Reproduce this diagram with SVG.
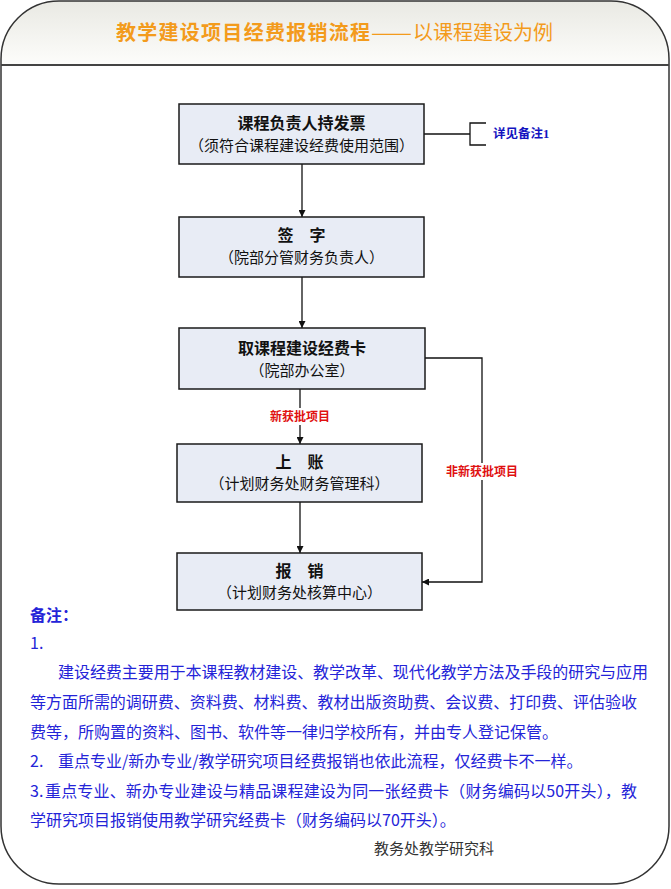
<svg xmlns="http://www.w3.org/2000/svg" width="671" height="889" viewBox="0 0 671 889">
<defs>
<linearGradient id="hdr" x1="0" y1="0" x2="0" y2="1">
<stop offset="0" stop-color="#e9e9e3"/>
<stop offset="1" stop-color="#fdfdfb"/>
</linearGradient>
<clipPath id="outer"><rect x="1" y="1" width="668" height="883" rx="58" ry="58"/></clipPath>
<marker id="arr" viewBox="0 0 10 10" refX="10" refY="5" markerWidth="7" markerHeight="7" orient="auto" markerUnits="userSpaceOnUse">
<path d="M0,0 L10,5 L0,10 z" fill="#111"/>
</marker>
<style>
.box{fill:#e8ecf5;stroke:#1a1a1a;stroke-width:1.5}
.t1{font-family:"Noto Sans CJK SC","Liberation Sans",sans-serif;font-size:16px;font-weight:bold;fill:#111;text-anchor:middle}
.t2{font-family:"Noto Sans CJK SC","Liberation Sans",sans-serif;font-size:15px;fill:#111;text-anchor:middle}
.ln{stroke:#111;stroke-width:1.3;fill:none}
.red{font-family:"Noto Sans CJK SC","Liberation Sans",sans-serif;font-size:12px;font-weight:bold;fill:#e01010;text-anchor:middle}
.note{font-family:"Noto Sans CJK SC","Liberation Sans",sans-serif;font-size:16px;fill:#2424d8}
.ttl{font-family:"Noto Sans CJK SC","Liberation Sans",sans-serif;font-size:20px;fill:#f39b1c}
</style>
</defs>
<g id="frame">
<rect x="1" y="1" width="668" height="64" fill="url(#hdr)" clip-path="url(#outer)"/>
<rect x="1" y="65" width="668" height="819" fill="#ffffff" clip-path="url(#outer)"/>
<rect x="1" y="1" width="668" height="883" rx="58" ry="58" fill="none" stroke="#333" stroke-width="1.5"/>
<line x1="1" y1="65" x2="669" y2="65" stroke="#444" stroke-width="2"/>
<text class="ttl" x="116" y="40" font-weight="bold" textLength="254" lengthAdjust="spacing">教学建设项目经费报销流程</text>
<text class="ttl" x="371" y="40" textLength="41" lengthAdjust="spacingAndGlyphs">——</text>
<text class="ttl" x="413" y="40" textLength="140" lengthAdjust="spacing">以课程建设为例</text>
</g>
<g id="connectors">
<line class="ln" x1="302" y1="164" x2="302" y2="217" marker-end="url(#arr)"/>
<line class="ln" x1="302" y1="277" x2="302" y2="328" marker-end="url(#arr)"/>
<line class="ln" x1="300" y1="389" x2="300" y2="444" marker-end="url(#arr)"/>
<line class="ln" x1="300" y1="502" x2="300" y2="553" marker-end="url(#arr)"/>
<polyline class="ln" points="425,358 482,358 482,582 422,582" marker-end="url(#arr)"/>
<polyline class="ln" points="424,134 470,134"/>
<polyline class="ln" points="486,123 470,123 470,145 486,145"/>
<rect x="268" y="408" width="64" height="17" fill="#fff"/>
<text class="red" x="300" y="421">新获批项目</text>
<rect x="444" y="463" width="76" height="17" fill="#fff"/>
<text class="red" x="482" y="476">非新获批项目</text>
<text x="493" y="138" font-family="Liberation Serif,Noto Sans CJK SC,serif" font-size="12.5" font-weight="bold" fill="#1414c0">详见备注1</text>
</g>
<g id="n1">
<rect class="box" x="179" y="104" width="245" height="60"/>
<text class="t1" x="301.5" y="129">课程负责人持发票</text>
<text class="t2" x="301.5" y="151">（须符合课程建设经费使用范围）</text>
</g>
<g id="n2">
<rect class="box" x="179" y="217" width="245" height="60"/>
<text class="t1" x="301.5" y="241">签　字</text>
<text class="t2" x="301.5" y="263">（院部分管财务负责人）</text>
</g>
<g id="n3">
<rect class="box" x="179" y="328" width="246" height="61"/>
<text class="t1" x="302" y="354">取课程建设经费卡</text>
<text class="t2" x="302" y="376">（院部办公室）</text>
</g>
<g id="n4">
<rect class="box" x="177" y="444" width="245" height="58"/>
<text class="t1" x="299.5" y="468">上　账</text>
<text class="t2" x="299.5" y="489">（计划财务处财务管理科）</text>
</g>
<g id="n5">
<rect class="box" x="177" y="553" width="245" height="57"/>
<text class="t1" x="299.5" y="577">报　销</text>
<text class="t2" x="299.5" y="598">（计划财务处核算中心）</text>
</g>
<g id="notes">
<text class="note" x="30" y="621" font-weight="bold">备注：</text>
<text class="note" x="30" y="649">1.</text>
<text class="note" x="58" y="678" textLength="590" lengthAdjust="spacing">建设经费主要用于本课程教材建设、教学改革、现代化教学方法及手段的研究与应用</text>
<text class="note" x="30" y="708" textLength="607" lengthAdjust="spacing">等方面所需的调研费、资料费、材料费、教材出版资助费、会议费、打印费、评估验收</text>
<text class="note" x="30" y="738">费等，所购置的资料、图书、软件等一律归学校所有，并由专人登记保管。</text>
<text class="note" x="30" y="767">2.</text>
<text class="note" x="58" y="767">重点专业/新办专业/教学研究项目经费报销也依此流程，仅经费卡不一样。</text>
<text class="note" x="30" y="797">3.</text>
<text class="note" x="45" y="797" textLength="592" lengthAdjust="spacing">重点专业、新办专业建设与精品课程建设为同一张经费卡（财务编码以50开头），教</text>
<text class="note" x="30" y="826">学研究项目报销使用教学研究经费卡（财务编码以70开头）。</text>
<text x="374" y="854" font-family="Noto Sans CJK SC,Liberation Serif,serif" font-size="15" fill="#333">教务处教学研究科</text>
</g>
</svg>
